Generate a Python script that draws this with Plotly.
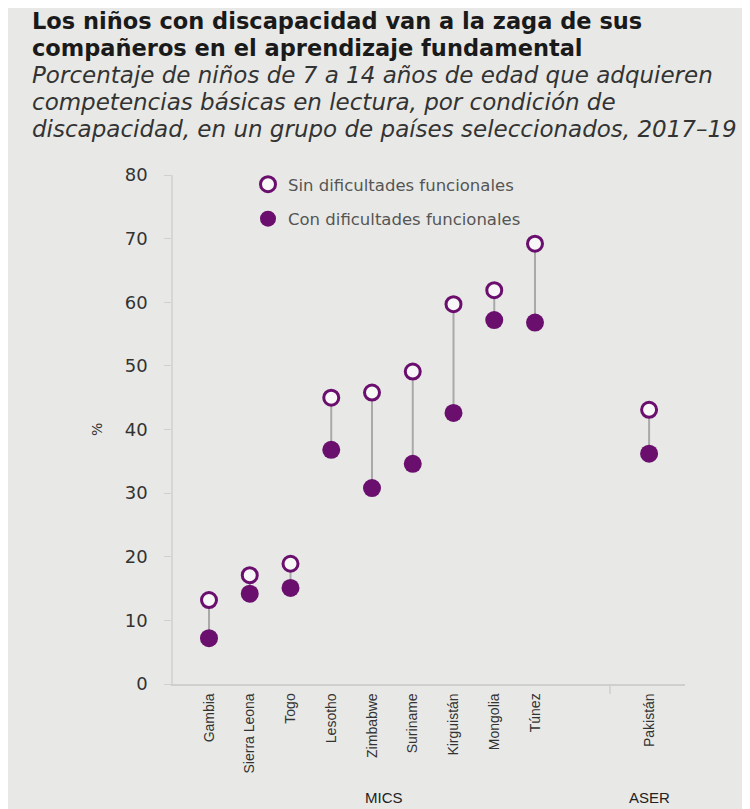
import plotly.graph_objects as go

countries = ["Gambia", "Sierra Leona", "Togo", "Lesotho", "Zimbabwe", "Suriname",
             "Kirguistán", "Mongolia", "Túnez", "Pakistán"]
positions = [0, 1, 2, 3, 4, 5, 6, 7, 8, 10.8]
sin_dif = [13.2, 17.1, 18.9, 45.0, 45.8, 49.1, 59.7, 61.9, 69.2, 43.1]
con_dif = [7.2, 14.2, 15.1, 36.8, 30.8, 34.6, 42.6, 57.2, 56.8, 36.2]
y_ticks = [0, 10, 20, 30, 40, 50, 60, 70, 80]
groups = ["MICS", "ASER"]
group_pos = [4.3, 10.8]
separator_pos = 9.84

title_lines = ["Los niños con discapacidad van a la zaga de sus",
               "compañeros en el aprendizaje fundamental"]
subtitle_lines = ["Porcentaje de niños de 7 a 14 años de edad que adquieren",
                  "competencias básicas en lectura, por condición de",
                  "discapacidad, en un grupo de países seleccionados, 2017–19"]

PURPLE = "#6a0f6e"
BG = "#e8e9e6"
OFF = 8  # page body margin
W, H = 750 - OFF, 809 - OFF
L, R, T, B = 173 - OFF, 685 - OFF, 175 - OFF, 684 - OFF

def px(xp):
    return (xp - OFF - L) / (R - L)

def py(yp):
    return (B - (yp - OFF)) / (B - T)

fig = go.Figure()

cx, cy = [], []
for p, a, b in zip(positions, sin_dif, con_dif):
    cx += [p, p, None]
    cy += [a, b, None]
fig.add_trace(go.Scatter(x=cx, y=cy, mode="lines", line=dict(color="#a9a9a9", width=2),
                         showlegend=False, hoverinfo="skip"))

fig.add_trace(go.Scatter(x=positions, y=sin_dif, mode="markers",
                         name="Sin dificultades funcionales", legendgroup="a",
                         marker=dict(symbol="circle", size=15, color="#f7f7f7",
                                     line=dict(color=PURPLE, width=3)),
                         cliponaxis=False))
fig.add_trace(go.Scatter(x=positions, y=con_dif, mode="markers",
                         name="Con dificultades funcionales", legendgroup="b",
                         marker=dict(symbol="circle", size=18, color=PURPLE,
                                     line=dict(width=0)),
                         cliponaxis=False))

xr0 = (173 - 209) / 40.75
xr1 = (685 - 209) / 40.75

fig.update_layout(
    width=W, height=H,
    margin=dict(l=L, r=W - R, t=T, b=H - B, pad=0),
    paper_bgcolor=BG, plot_bgcolor=BG,
    font=dict(family="'DejaVu Sans', sans-serif", color="#333333"),
    showlegend=True,
    legend=dict(x=px(248), y=py(167), xanchor="left", yanchor="top",
                bgcolor="rgba(0,0,0,0)", font=dict(size=16.5, color="#555555"),
                traceorder="grouped", tracegroupgap=10, itemsizing="trace"),
    xaxis=dict(range=[xr0, xr1],
               tickmode="array", tickvals=positions, ticktext=countries,
               tickangle=-90, ticks="", showgrid=False, zeroline=False,
               showline=True, linecolor="#cfcfcf", linewidth=1.5,
               tickfont=dict(family="'Liberation Sans Narrow', 'Arial Narrow', sans-serif",
                             size=14, color="#333333"),
               ticklabelstandoff=2),
    yaxis=dict(range=[0, 80], tickmode="array", tickvals=y_ticks,
               ticks="outside", ticklen=7, tickcolor="#cfcfcf", tickwidth=1,
               showgrid=False, zeroline=False, showline=True, linecolor="#d6d6d6",
               linewidth=1.5, tickfont=dict(family="'DejaVu Sans', sans-serif", size=18,
                                             color="#333333"),
               ticklabelstandoff=13),
)

fig.add_shape(type="line", xref="x", yref="paper", x0=separator_pos, x1=separator_pos,
              y0=0, y1=py(694), line=dict(color="#cfcfcf", width=1.5))

ann = []
for i, t in enumerate(title_lines):
    ann.append(dict(xref="paper", yref="paper", x=px(30), y=py(21 + 27 * i),
                    xanchor="left", yanchor="middle", align="left", showarrow=False,
                    text="<b>" + t + "</b>",
                    font=dict(size=22.5, color="#1a1a1a", family="'DejaVu Sans', sans-serif")))
for i, t in enumerate(subtitle_lines):
    ann.append(dict(xref="paper", yref="paper", x=px(30), y=py(75 + 27 * i),
                    xanchor="left", yanchor="middle", align="left", showarrow=False,
                    text="<i>" + t + "</i>",
                    font=dict(size=23, color="#333333", family="'DejaVu Sans', sans-serif")))
ann.append(dict(xref="paper", yref="paper", x=px(97), y=py(430), showarrow=False,
                xanchor="center", yanchor="middle",
                text="%", textangle=-90, font=dict(size=14, color="#333333")))
for g, gp in zip(groups, group_pos):
    ann.append(dict(xref="x", yref="paper", x=gp, y=py(797), showarrow=False, text=g,
                    xanchor="center", yanchor="middle",
                    font=dict(size=15, color="#222222",
                              family="'Liberation Sans Narrow', 'Arial Narrow', sans-serif")))
fig.update_layout(annotations=ann)

fig.write_html("out.html")
